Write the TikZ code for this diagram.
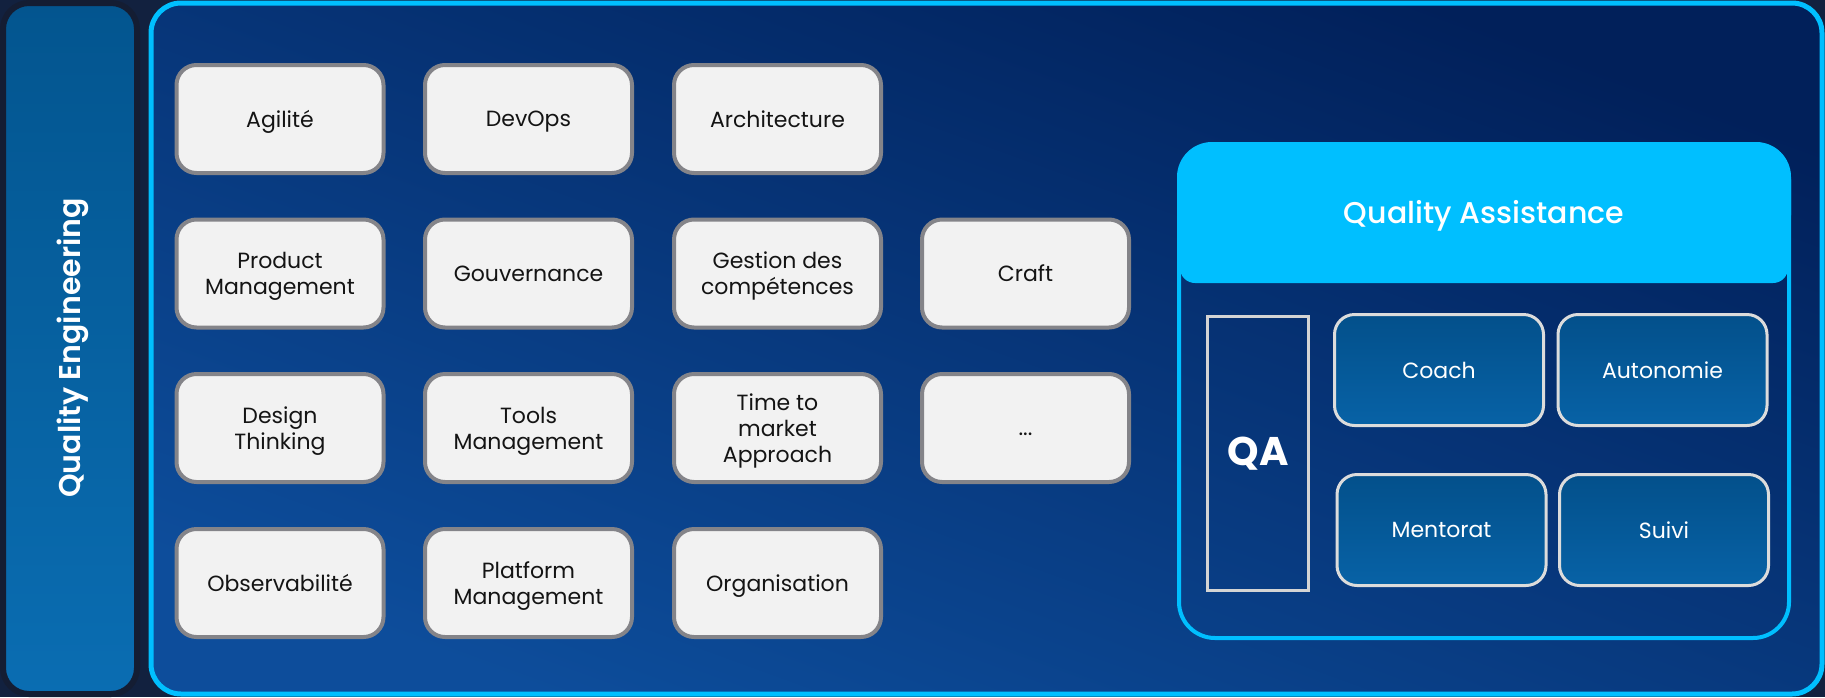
\documentclass[tikz,border=0pt]{standalone}
\usepackage{fontspec}
\setmainfont{Poppins}
\newfontfamily\popmed{Poppins Medium}
\newfontfamily\popsemi{Poppins SemiBold}
\definecolor{bgdark}{HTML}{12213F}
\definecolor{leftborder}{HTML}{141D33}
\definecolor{lefttop}{HTML}{03558F}
\definecolor{leftbot}{HTML}{0A6DB2}
\definecolor{cyanc}{HTML}{00BFFF}
\definecolor{maintop}{HTML}{01205A}
\definecolor{mainbot}{HTML}{0D4D9B}
\definecolor{boxgray}{HTML}{848489}
\definecolor{boxfill}{HTML}{F2F2F2}
\definecolor{qagray}{HTML}{D4D4D4}
\definecolor{subgray}{HTML}{DCDCDC}
\definecolor{subtop}{HTML}{03508B}
\definecolor{subbot}{HTML}{0762A6}
\tikzset{
  topic/.style={draw=boxgray, line width=4pt, fill=boxfill, rounded corners=20pt,
    minimum width=207pt, minimum height=108pt, align=center, inner sep=0pt,
    text depth=-4pt, text=black!92, font=\fontsize{22}{26}\selectfont},
  subbox/.style={draw=subgray, line width=3pt, rounded corners=20pt,
    top color=subtop, bottom color=subbot,
    minimum width=209pt, minimum height=111pt, inner sep=0pt,
    text=white, font=\fontsize{22}{26}\selectfont},
}
\begin{document}
\begin{tikzpicture}[x=1pt,y=-1pt]
\useasboundingbox (0,0) rectangle (1825,697);
\fill[bgdark] (0,0) rectangle (1825,697);
% left panel
\draw[line width=6pt, draw=leftborder, top color=lefttop, bottom color=leftbot, rounded corners=26pt] (3,3) rectangle (137,694);
\node[rotate=90, font=\popsemi\fontsize{30}{36}\selectfont, text=white, inner sep=0pt] (qe) at (73,348) {Quality Engineering};
% main panel
\draw[line width=5pt, draw=cyanc, top color=maintop, bottom color=mainbot, shading angle=-20, rounded corners=30pt] (151,3) rectangle (1822,694);
% topic grid
\node[topic] (agil) at (280,119) {Agilité};
\node[topic] (devops) at (528.5,119) {DevOps};
\node[topic] (archi) at (777.5,119) {Architecture};
\node[topic] (prod) at (280,273.5) {Product\\Management};
\node[topic] (gouv) at (528.5,273.5) {Gouvernance};
\node[topic] (gest) at (777.5,273.5) {Gestion des\\compétences};
\node[topic] (craft) at (1025.5,273.5) {Craft};
\node[topic] (design) at (280,428) {Design\\Thinking};
\node[topic] (tools) at (528.5,428) {Tools\\Management};
\node[topic] (ttm) at (777.5,428) {Time to\\market\\Approach};
\node[topic] (etc) at (1025.5,428) {\vphantom{Ag}...};
\node[topic] (obs) at (280,583) {Observabilité};
\node[topic] (plat) at (528.5,583) {Platform\\Management};
\node[topic] (orga) at (777.5,583) {Organisation};
% QA area
\fill[cyanc, rounded corners=35pt] (1177,142) rectangle (1791,250);
\fill[cyanc, rounded corners=15pt] (1180,190) rectangle (1788,283);
\node[draw=cyanc, line width=4pt, rounded corners=36pt, minimum width=610pt, minimum height=494pt, inner sep=0pt] (qabox) at (1484,391) {};
\node[font=\popmed\fontsize{30}{36}\selectfont, text=white, anchor=base] (qatitle) at (1484,223) {Quality Assistance};
\node[draw=qagray, line width=3pt, minimum width=101pt, minimum height=274pt, inner sep=0pt, text=white, font=\bfseries\fontsize{40}{48}\selectfont] (qa) at (1258,453.5) {QA};
\node[subbox] (coach) at (1439,370) {Coach};
\node[subbox] (auto) at (1662.5,370) {Autonomie};
\node[subbox] (ment) at (1441.5,530) {Mentorat};
\node[subbox] (suivi) at (1664,530) {Suivi};
\end{tikzpicture}
\end{document}
